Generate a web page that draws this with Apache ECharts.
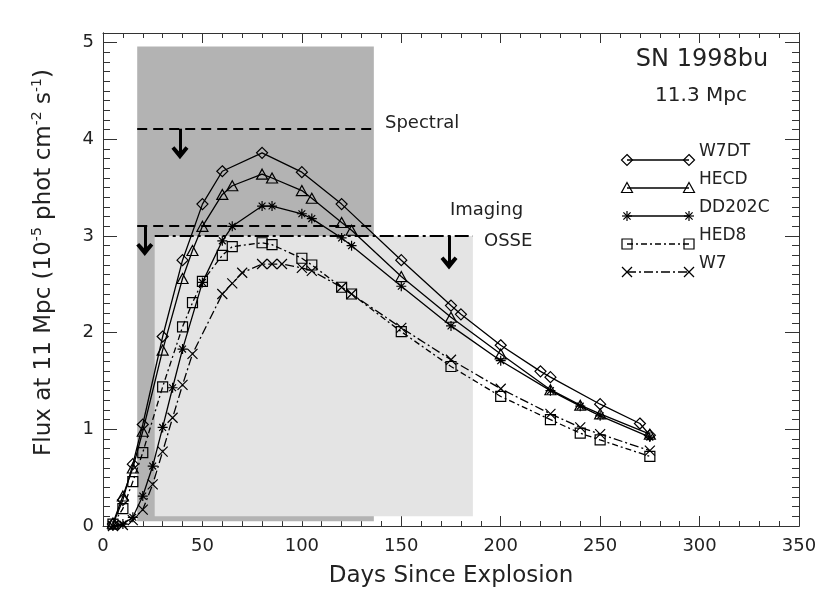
<!DOCTYPE html>
<html>
<head>
<meta charset="utf-8">
<script src="https://cdn.jsdelivr.net/npm/echarts@6/dist/echarts.min.js"></script>
<style>
html,body{margin:0;padding:0;background:#fff}
#chart{width:830px;height:593px}
</style>
</head>
<body>
<div id="chart"></div>
<script>
// model gamma-ray line flux at 11 Mpc, 1e-5 phot cm^-2 s^-1
var w7dtDays = [5, 10, 15, 20, 30, 40, 50, 60, 80, 100, 120, 150, 175, 180, 200, 220, 225, 250, 270, 275];
var w7dtFlux = [0.02, 0.27, 0.64, 1.05, 1.96, 2.75, 3.33, 3.67, 3.86, 3.66, 3.33, 2.75, 2.28, 2.19, 1.87, 1.60, 1.54, 1.26, 1.06, 0.94];

var hecdDays = [5, 10, 15, 20, 30, 40, 45, 50, 60, 65, 80, 85, 100, 105, 120, 125, 150, 175, 200, 225, 240, 250, 275];
var hecdFlux = [0.03, 0.31, 0.60, 0.98, 1.82, 2.56, 2.85, 3.10, 3.43, 3.52, 3.64, 3.60, 3.47, 3.39, 3.14, 3.06, 2.58, 2.16, 1.78, 1.41, 1.25, 1.16, 0.95];

var dd202cDays = [5, 10, 15, 20, 25, 30, 35, 40, 50, 60, 65, 80, 85, 100, 105, 120, 125, 150, 175, 200, 225, 240, 250, 275];
var dd202cFlux = [0.0, 0.02, 0.09, 0.31, 0.62, 1.02, 1.43, 1.83, 2.52, 2.95, 3.10, 3.31, 3.31, 3.23, 3.18, 2.98, 2.90, 2.48, 2.07, 1.71, 1.40, 1.24, 1.14, 0.92];

var hed8Days = [5, 10, 15, 20, 30, 40, 45, 50, 60, 65, 80, 85, 100, 105, 120, 125, 150, 175, 200, 225, 240, 250, 275];
var hed8Flux = [0.02, 0.18, 0.46, 0.76, 1.44, 2.06, 2.31, 2.53, 2.80, 2.89, 2.93, 2.91, 2.77, 2.70, 2.47, 2.40, 2.01, 1.65, 1.34, 1.10, 0.96, 0.89, 0.72];

var w7Days = [5, 10, 15, 20, 25, 30, 35, 40, 45, 60, 65, 70, 80, 85, 90, 100, 105, 120, 125, 150, 175, 200, 225, 240, 250, 275];
var w7Flux = [0.0, 0.01, 0.06, 0.17, 0.43, 0.77, 1.12, 1.46, 1.78, 2.40, 2.51, 2.62, 2.71, 2.71, 2.71, 2.67, 2.64, 2.47, 2.40, 2.05, 1.72, 1.42, 1.16, 1.02, 0.95, 0.78];

// observing windows: [dayFrom, dayTo, fluxBottom, fluxTop]
var spectralBox = [17.2, 136.2, 0.05, 4.96];
var osseBox = [26, 186, 0.10, 3.0];

// sensitivity limits: [dayFrom, dayTo, flux]
var spectralLimit = [17.2, 136.2, 4.11];
var imagingLimit = [17.2, 136.2, 3.11];
var osseLimit = [26, 186, 3.0];

// upper limit arrows: [day, fluxFrom, fluxTo]
var limitArrows = [[38.7, 4.11, 3.86], [21, 3.11, 2.86], [174, 3.0, 2.72]];

var xMin = 0, xMax = 350, xStep = 50;
var yMin = 0, yMax = 5.1, yStep = 1;

var FONT = 'DejaVu Sans';
var INK = '#222';
var AX = '#333';

var ASTER = 'path://M5,0L5,10M0,5L10,5M1.6,1.6L8.4,8.4M8.4,1.6L1.6,8.4';
var CROSS = 'path://M0,0L10,10M10,0L0,10';
var CHEVRON = 'path://M5,0L10,6.5L8.3,8L5,4.3L1.7,8L0,6.5Z';

function pairs(days, flux) {
    return days.map(function (d, i) { return [d, flux[i]]; });
}

function curve(name, days, flux, symbol, size, dash) {
    return {
        name: name,
        type: 'line',
        xAxisIndex: 0,
        yAxisIndex: 0,
        data: pairs(days, flux),
        symbol: symbol,
        symbolSize: size,
        showSymbol: true,
        z: 5,
        lineStyle: { color: '#000', width: 1.3, type: dash },
        itemStyle: { color: 'rgba(0,0,0,0)', borderColor: '#000', borderWidth: 1.2 },
        emphasis: { disabled: true }
    };
}

function limitLine(lim) {
    return [{ coord: [lim[0], lim[2]] }, { coord: [lim[1], lim[2]] }];
}

var xAxisBase = {
    type: 'value', min: xMin, max: xMax, interval: xStep,
    axisLine: { show: true, onZero: false, lineStyle: { color: AX, width: 1 } },
    axisTick: { show: true, inside: true, length: 10, lineStyle: { color: AX } },
    minorTick: { show: true, splitNumber: 5, length: 5, lineStyle: { color: AX } },
    splitLine: { show: false }
};

function yAx(pos, step, len, labels) {
    return {
        type: 'value', min: yMin, max: yMax, interval: step, position: pos,
        axisLine: { show: true, onZero: false, lineStyle: { color: AX, width: 1 } },
        axisTick: { show: true, inside: true, length: len, lineStyle: { color: AX } },
        axisLabel: labels ? {
            show: true, margin: 9, fontSize: 18, fontFamily: FONT, color: INK,
            formatter: function (v) { return Math.abs(v - Math.round(v)) < 1e-6 ? String(Math.round(v)) : ''; }
        } : { show: false },
        splitLine: { show: false }
    };
}

// legend drawn by hand: line with a marker at each end
var legendRows = [
    { name: 'W7DT', mark: 'diamond', dash: null },
    { name: 'HECD', mark: 'triangle', dash: null },
    { name: 'DD202C', mark: 'aster', dash: null },
    { name: 'HED8', mark: 'square', dash: [6, 3, 2, 3] },
    { name: 'W7', mark: 'cross', dash: [9, 3, 2, 3] }
];

function seg(x1, y1, x2, y2) {
    return { type: 'line', shape: { x1: x1, y1: y1, x2: x2, y2: y2 },
        style: { stroke: '#000', lineWidth: 1.2 } };
}

function marker(kind, cx, cy) {
    var st = { fill: 'none', stroke: '#000', lineWidth: 1.2 };
    if (kind === 'diamond') return [{ type: 'polygon', shape: { points: [[cx, cy - 5.5], [cx + 5.5, cy], [cx, cy + 5.5], [cx - 5.5, cy]] }, style: st }];
    if (kind === 'triangle') return [{ type: 'polygon', shape: { points: [[cx, cy - 5.5], [cx + 5.5, cy + 4.5], [cx - 5.5, cy + 4.5]] }, style: st }];
    if (kind === 'square') return [{ type: 'rect', shape: { x: cx - 5, y: cy - 5, width: 10, height: 10 }, style: st }];
    if (kind === 'aster') return [
        seg(cx, cy - 5, cx, cy + 5), seg(cx - 5, cy, cx + 5, cy),
        seg(cx - 3.6, cy - 3.6, cx + 3.6, cy + 3.6), seg(cx + 3.6, cy - 3.6, cx - 3.6, cy + 3.6)
    ];
    return [seg(cx - 5, cy - 5, cx + 5, cy + 5), seg(cx + 5, cy - 5, cx - 5, cy + 5)];
}

function label(txt, x, y, size, align) {
    return { type: 'text', x: x, y: y,
        style: { text: txt, font: size + 'px "' + FONT + '"', fill: INK, textAlign: align || 'left' } };
}

var graphics = [];
legendRows.forEach(function (r, i) {
    var y = 160 + i * 28;
    var ln = { type: 'line', shape: { x1: 627, y1: y, x2: 689, y2: y },
        style: { stroke: '#000', lineWidth: 1.3 } };
    if (r.dash) ln.style.lineDash = r.dash;
    graphics.push(ln);
    graphics = graphics.concat(marker(r.mark, 627, y), marker(r.mark, 689, y));
    graphics.push(label(r.name, 699, y - 17, 17));
});
graphics.push(label('Spectral', 385, 114, 18));
graphics.push(label('Imaging', 450, 201, 18));
graphics.push(label('OSSE', 484, 232, 18));
graphics.push(label('SN 1998bu', 702, 48, 24, 'center'));
graphics.push(label('11.3 Mpc', 701, 86, 20, 'center'));

var chart = echarts.init(document.getElementById('chart'), null, { renderer: 'canvas' });

var option = {
    animation: false,
    backgroundColor: '#fff',
    grid: { left: 103, top: 33, width: 696, height: 494 },
    xAxis: [
        Object.assign({}, xAxisBase, {
            position: 'bottom',
            axisLabel: { show: true, margin: 11, fontSize: 18, fontFamily: FONT, color: INK },
            name: 'Days Since Explosion', nameLocation: 'middle', nameGap: 39,
            nameTextStyle: { fontSize: 23, fontFamily: FONT, color: INK }
        }),
        Object.assign({}, xAxisBase, { position: 'top', axisLabel: { show: false } })
    ],
    yAxis: [
        Object.assign(yAx('left', yStep, 14, true), {
            name: 'Flux at 11 Mpc (10{s|-5} phot cm{s|-2} s{s|-1})',
            nameLocation: 'middle', nameGap: 45, nameRotate: 90,
            nameTextStyle: {
                fontSize: 23, fontFamily: FONT, color: INK, lineHeight: 28,
                padding: [0, 0, 0, 34],
                rich: { s: { fontSize: 14, fontFamily: FONT, color: INK, verticalAlign: 'top', lineHeight: 13 } }
            }
        }),
        yAx('left', 0.1, 7, false),
        yAx('right', yStep, 14, false),
        yAx('right', 0.1, 7, false)
    ],
    series: [
        {
            type: 'line', data: [], xAxisIndex: 0, yAxisIndex: 0, z: 1,
            markArea: { silent: true, z: 1, itemStyle: { color: '#b3b3b3' },
                data: [[{ coord: [spectralBox[0], spectralBox[2]] }, { coord: [spectralBox[1], spectralBox[3]] }]] }
        },
        {
            type: 'line', data: [], xAxisIndex: 0, yAxisIndex: 0, z: 2,
            markArea: { silent: true, z: 2, itemStyle: { color: '#e4e4e4' },
                data: [[{ coord: [osseBox[0], osseBox[2]] }, { coord: [osseBox[1], osseBox[3]] }]] }
        },
        {
            type: 'line', data: [], xAxisIndex: 0, yAxisIndex: 0,
            markLine: { silent: true, symbol: ['none', 'none'], label: { show: false },
                lineStyle: { color: '#000', width: 2, type: [10, 6] },
                data: [limitLine(spectralLimit), limitLine(imagingLimit)] }
        },
        {
            type: 'line', data: [], xAxisIndex: 0, yAxisIndex: 0,
            markLine: { silent: true, symbol: ['none', 'none'], label: { show: false },
                lineStyle: { color: '#000', width: 2, type: [14, 4, 3, 4] },
                data: [limitLine(osseLimit)] }
        },
        {
            type: 'line', data: [], xAxisIndex: 0, yAxisIndex: 0,
            markLine: { silent: true, symbol: ['none', 'none'], label: { show: false },
                lineStyle: { color: '#000', width: 3, type: 'solid' },
                data: limitArrows.map(function (a) {
                    return [{ coord: [a[0], a[1]], symbol: 'none' },
                            { coord: [a[0], a[2]], symbol: CHEVRON, symbolSize: [17, 13] }];
                }) }
        },
        curve('W7DT', w7dtDays, w7dtFlux, 'diamond', [11, 11], 'solid'),
        curve('HECD', hecdDays, hecdFlux, 'triangle', [11, 10], 'solid'),
        curve('DD202C', dd202cDays, dd202cFlux, ASTER, 10, 'solid'),
        curve('HED8', hed8Days, hed8Flux, 'rect', 10, [6, 3, 2, 3]),
        curve('W7', w7Days, w7Flux, CROSS, 10, [9, 3, 2, 3])
    ],
    graphic: { elements: graphics }
};

chart.setOption(option);
</script>
</body>
</html>
